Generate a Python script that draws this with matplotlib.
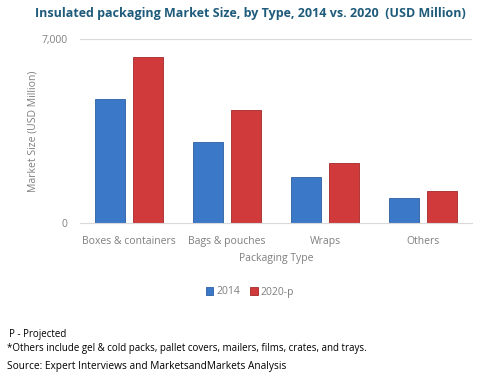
import matplotlib.pyplot as plt
import numpy as np

categories = ["Boxes & containers", "Bags & pouches", "Wraps", "Others"]
series_names = ["2014", "2020-p"]
values_2014 = [4700, 3100, 1750, 940]
values_2020 = [6300, 4300, 2300, 1200]
y_ticks = [0, 7000]
y_tick_labels = ["0", "7,000"]

W, H = 485, 378
fig = plt.figure(figsize=(W / 100, H / 100), dpi=100)
fig.patch.set_facecolor("white")
plt.rcParams['font.family'] = ['Open Sans', 'DejaVu Sans']

# axes placed in pixel coords: left 80, right 472, top 39, bottom 223
ax = fig.add_axes([80 / W, 1 - 223 / H, (472 - 80) / W, (223 - 39) / H])

x = np.arange(len(categories))
w = 0.30
ax.bar(x - 0.195, values_2014, width=w, color="#3b78c8", edgecolor="#2c5f9e", linewidth=0.6, label=series_names[0])
ax.bar(x + 0.195, values_2020, width=w, color="#d03a3a", edgecolor="#a32828", linewidth=0.6, label=series_names[1])

ax.set_xlim(-0.5, len(categories) - 0.5)
ax.set_ylim(0, 7000)
ax.set_yticks(y_ticks)
ax.set_yticklabels(y_tick_labels)
ax.set_xticks(x)
ax.set_xticklabels(categories)
ax.axhline(7000, color="#d9d9d9", linewidth=0.9, zorder=0)
for s in ["top", "right", "left"]:
    ax.spines[s].set_visible(False)
ax.spines["bottom"].set_color("#d9d9d9")
ax.tick_params(length=0, colors="#7f7f7f", labelsize=7.5)
ax.tick_params(axis="y", pad=9)
ax.tick_params(axis="x", pad=9)

fig.text(33 / W, 1 - 131 / H, "Market Size (USD Million)", rotation=90, ha="center", va="center",
         color="#7f7f7f", fontsize=7.5)
fig.text(276 / W, 1 - 258 / H, "Packaging Type", ha="center", va="center", color="#7f7f7f", fontsize=7.5)

fig.text(250 / W, 1 - 14 / H, "Insulated packaging Market Size, by Type, 2014 vs. 2020  (USD Million)",
         ha="center", va="center", color="#1f5b7b", fontsize=9.0, fontweight="bold")

fig.legend(loc="center", bbox_to_anchor=(250 / W, 1 - 292 / H), ncol=2, frameon=False,
           fontsize=7.5, labelcolor="#7f7f7f", handlelength=0.7, handleheight=0.7,
           handletextpad=0.3, columnspacing=1.0)

fig.text(9 / W, 1 - 334 / H, "P - Projected", ha="left", va="center", fontsize=7, color="black")
fig.text(7 / W, 1 - 349 / H, "*Others include gel & cold packs, pallet covers, mailers, films, crates, and trays.",
         ha="left", va="center", fontsize=7, color="black")
fig.text(7 / W, 1 - 367 / H, "Source: Expert Interviews and MarketsandMarkets Analysis",
         ha="left", va="center", fontsize=7.3, color="black")

fig.savefig("out.png", dpi=100)
